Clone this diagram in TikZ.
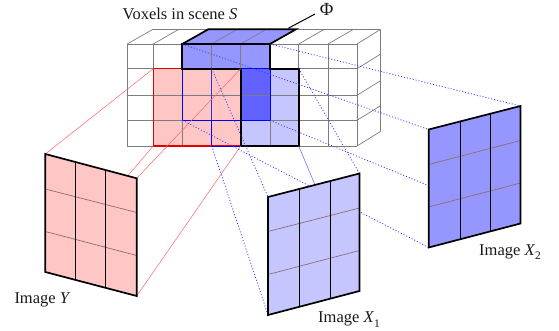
\documentclass[tikz,border=0pt]{standalone}
\usepackage{fontspec}
\setmainfont{Liberation Serif}
\definecolor{pinkf}{RGB}{255,198,198}
\definecolor{bluel}{RGB}{198,198,255}
\definecolor{bluem}{RGB}{150,150,255}
\definecolor{blued}{RGB}{98,98,255}
\definecolor{gridg}{RGB}{125,125,125}
\definecolor{brownl}{RGB}{140,110,110}
\newcommand{\subt}[1]{\raisebox{-0.3em}{\fontsize{11.5}{13}\selectfont #1}}
\tikzset{
 gridline/.style={draw=gridg,line width=0.7pt},
 heavy/.style={draw=black,line width=1.7pt,line join=miter},
 redray/.style={draw=red!60,line width=0.5pt},
 blueray/.style={draw=blue!80,line width=0.8pt,dash pattern=on 1pt off 2pt},
 solidray/.style={draw=blue!55,line width=0.6pt},
 bluebox/.style={draw=blue,line width=0.9pt},
 imgh/.style={draw=brownl,line width=0.7pt},
 imgv/.style={draw=black,line width=0.9pt},
 lab/.style={inner sep=0pt,font=\fontsize{16.5}{18}\selectfont,text=black!90}
}
\begin{document}
\begin{tikzpicture}[x=1pt,y=-1pt]
\useasboundingbox (0,0) rectangle (559,331);
% ray origins on the voxel block
\coordinate (rA) at (153.3,68.7);
\coordinate (rB) at (240.7,68.7);
\coordinate (rC) at (153.3,146);
\coordinate (rD) at (240.7,146);
\coordinate (bA) at (211.7,68.7);
\coordinate (bB) at (298.7,68.7);
\coordinate (bC) at (211.7,146);
\coordinate (bD) at (298.7,146);
\coordinate (cA) at (182.3,44);
\coordinate (cB) at (270,44);
\coordinate (cC) at (182.3,120.3);
\coordinate (cD) at (270,120.3);
% image corners
\coordinate (y1) at (45.3,154); \coordinate (y2) at (136.7,178.3); \coordinate (y3) at (136.7,296); \coordinate (y4) at (45.3,272);
\coordinate (p1) at (268,197); \coordinate (p2) at (359.5,173.5); \coordinate (p3) at (359.5,291); \coordinate (p4) at (268,315);
\coordinate (q1) at (428.7,129.5); \coordinate (q2) at (520.5,106); \coordinate (q3) at (520.5,223.5); \coordinate (q4) at (428.7,247.5);
% fills
\fill[bluel] (240.7,68.7) rectangle (298.7,146);
\fill[bluem] (182.3,44) rectangle (270,68.7);
\fill[bluem] (181.7,44) -- (208.3,29.3) -- (295,29.3) -- (270,44) -- cycle;
\fill[pinkf] (153.3,68.7) rectangle (240.7,146);
\fill[blued] (240.7,68.7) rectangle (270,120.3);
% grid
\foreach \x in {127.3,153.3,182.3,211.7,240.7,270,298.7,328,357} \draw[gridline] (\x,44) -- (\x,146);
\foreach \y in {44,68.7,95.3,120.3,146} \draw[gridline] (127.3,\y) -- (357,\y);
\foreach \x in {127.3,153.3,182.3,211.7,240.7,270,298.7,328} \draw[gridline] (\x,44) -- ++(25.5,-14.7);
\draw[gridline] (357,44) -- (380.7,29.3);
\draw[gridline] (152.8,29.3) -- (380.7,29.3) -- (380.7,131.5);
\foreach \y in {68.7,95.3,120.3,146} \draw[gridline] (357,\y) -- ++(23.7,-14.7);
% outlines on the block
\draw[draw=red!90!black,line width=1.5pt] (rB) -- (rA) -- (rC) -- (rD);
\draw[bluebox] (182.3,68.7) rectangle (270,120.3);
\draw[draw=blue!60!gray,line width=0.9pt] (bA) -- (211.7,120.3);
\draw[bluebox] (211.7,120.3) -- (bC) -- (rD);
\draw[heavy] (cA) -- (208.3,29.3) -- (296,29.3) -- (cB);
\draw[heavy] (182.3,68.7) -- (cA) -- (cB) -- (270,68.7) -- (bB) -- (bD) -- (rD) -- (rB) -- cycle;
% rays
\draw[redray] (rA) -- (y1);
\draw[redray] (rB) -- (y2);
\draw[redray] (rC) -- (y4);
\draw[redray] (rD) -- (y3);
\draw[blueray] (bA) -- (p1);
\draw[blueray] (bB) -- (p2);
\draw[blueray] (bC) -- (p4);
\draw[solidray] (bD) -- (p3);
\draw[blueray] (cA) -- (q1);
\draw[blueray] (cB) -- (q2);
\draw[blueray] (cC) -- (q4);
\draw[blueray] (cD) -- (q3);
% Phi
\coordinate (phis) at (288.3,28.3); \coordinate (phie) at (315,14);
\draw[black,line width=1pt] (phis) -- (phie);
\node[lab,anchor=base,font=\fontsize{18.5}{20}\selectfont] (phi) at (326.7,16) {Φ};
\node[lab,anchor=base west] (title) at (122.5,20) {Voxels in scene \textit{S}};
% Image Y
\fill[pinkf] (y1)--(y2)--(y3)--(y4)--cycle;
\draw[imgh] (45.3,189) -- (136.7,212.5) (45.3,231.5) -- (136.7,255.5);
\draw[imgv] (75.7,162.5) -- (75.7,279.5) (105.7,170.5) -- (105.7,288);
\draw[heavy] (y1)--(y2)--(y3)--(y4)--cycle;
\node[lab,anchor=base west] (ly) at (14.3,303) {Image \textit{Y}};
% Image X1
\fill[bluel] (p1)--(p2)--(p3)--(p4)--cycle;
\draw[imgh] (268,231.5) -- (359.5,208) (268,274.5) -- (359.5,250.5);
\draw[imgv] (299.7,189) -- (299.7,306.5) (330.3,181.5) -- (330.3,298.5);
\draw[heavy] (p1)--(p2)--(p3)--(p4)--cycle;
\node[lab,anchor=base west] (l1) at (318,322.7) {Image \textit{X}\subt{1}};
% Image X2
\fill[bluem] (q1)--(q2)--(q3)--(q4)--cycle;
\draw[imgh] (428.7,164.5) -- (520.5,140.5) (428.7,207) -- (520.5,183);
\draw[imgv] (460.5,121.5) -- (460.5,239) (490.5,113.5) -- (490.5,231.5);
\draw[heavy] (q1)--(q2)--(q3)--(q4)--cycle;
\node[lab,anchor=base west] (l2) at (479,255) {Image \textit{X}\subt{2}};
\end{tikzpicture}
\end{document}
